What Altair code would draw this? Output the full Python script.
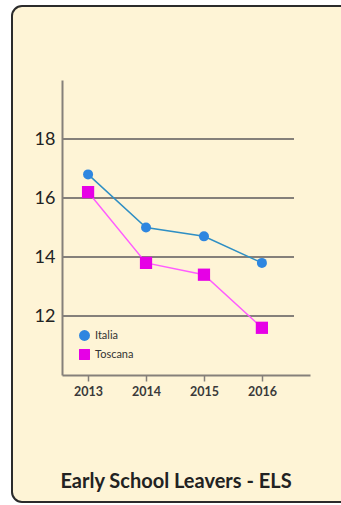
import altair as alt
import pandas as pd

years = [2013, 2014, 2015, 2016]
italia = [16.8, 15.0, 14.7, 13.8]
toscana = [16.2, 13.8, 13.4, 11.6]
series = ["Italia", "Toscana"]
y_ticks = [12, 14, 16, 18]
title_text = "Early School Leavers - ELS"

rows = []
for s, vals in zip(series, [italia, toscana]):
    for yr, v in zip(years, vals):
        rows.append({"year": yr, "value": v, "serie": s, "linea": s})
df = pd.DataFrame(rows)
grid_df = pd.DataFrame({"value": y_ticks})

FONT = "Lato"
AXIS_COL = "#85807a"

xscale = alt.Scale(domain=[2012.55, 2016.83], nice=False, zero=False)
yscale = alt.Scale(domain=[10, 20], nice=False, zero=False)

card = alt.Chart(pd.DataFrame({"a": [0]})).mark_rect(
    fill="#FEF4D6", stroke="#2b2b2b", strokeWidth=2, cornerRadius=10, clip=False
).encode(
    x=alt.value(-50), x2=alt.value(290), y=alt.value(-74), y2=alt.value(422)
)

title = alt.Chart(pd.DataFrame({"t": [title_text]})).mark_text(
    font=FONT, fontSize=20, fontWeight="bold", color="#222222", align="center", baseline="middle"
).encode(text="t:N", x=alt.value(114), y=alt.value(402))

grid = alt.Chart(grid_df).mark_rule(color=AXIS_COL, strokeWidth=2).encode(
    y=alt.Y("value:Q", scale=yscale),
    x=alt.value(0), x2=alt.value(232),
)

line_it = alt.Chart(df).transform_filter(alt.datum.serie == "Italia").mark_line(
    strokeWidth=1.5, color="#2f8fc4"
).encode(x=alt.X("year:Q", scale=xscale), y=alt.Y("value:Q", scale=yscale))

line_to = alt.Chart(df).transform_filter(alt.datum.serie == "Toscana").mark_line(
    strokeWidth=1.5, color="#ff5cff"
).encode(x=alt.X("year:Q", scale=xscale), y=alt.Y("value:Q", scale=yscale))

leg = dict(title=None, orient="none", legendX=17, legendY=250,
           labelFont=FONT, labelFontSize=11, labelColor="#333333", labelOffset=5,
           symbolSize=120, symbolStrokeWidth=0, rowPadding=7, zindex=3)

points = alt.Chart(df).mark_point(filled=True, opacity=1).encode(
    x=alt.X("year:Q", scale=xscale,
            axis=alt.Axis(values=years, format="d", title=None, grid=False, zindex=2,
                          domainColor=AXIS_COL, domainWidth=2, tickColor=AXIS_COL,
                          tickSize=6, tickWidth=1.5, labelFont=FONT, labelFontSize=12.5,
                          labelFontWeight="bold", labelColor="#3a3a3a", labelPadding=4)),
    y=alt.Y("value:Q", scale=yscale,
            axis=alt.Axis(values=y_ticks, title=None, grid=False, ticks=False, zindex=2,
                          domainColor=AXIS_COL, domainWidth=2, labelFont=FONT,
                          labelFontSize=18, labelColor="#222222", labelPadding=7)),
    fill=alt.Fill("serie:N", scale=alt.Scale(domain=series, range=["#2e86e0", "#e600e6"]),
                  legend=alt.Legend(**leg)),
    shape=alt.Shape("serie:N", scale=alt.Scale(domain=series, range=["circle", "square"]),
                    legend=alt.Legend(**leg)),
    size=alt.Size("linea:N", scale=alt.Scale(range=[100, 150]), legend=None),
)

chart = alt.layer(card, title, grid, line_it, line_to, points).properties(
    width=248, height=295,
    autosize=alt.AutoSizeParams(type="none"),
    padding={"left": 62, "top": 80, "right": 31, "bottom": 130},
    background="white",
).configure_view(stroke=None)

chart.save("out.html", embed_options={"renderer": "svg", "actions": False})
